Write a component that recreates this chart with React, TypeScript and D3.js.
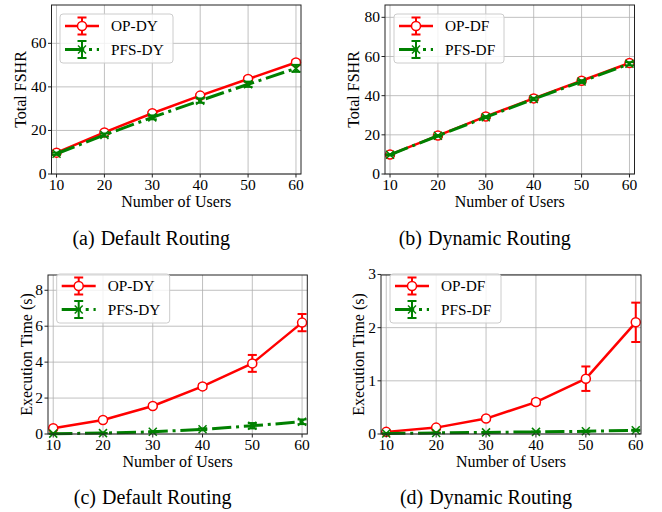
import React from "react";
import * as d3 from "d3";

const users = [10, 20, 30, 40, 50, 60];

const fshrOpDy = [9.8, 19.1, 27.9, 36.0, 43.6, 51.2];
const fshrOpDyErr = [0.4, 0.5, 0.6, 0.7, 0.8, 1.0];
const fshrPfsDy = [9.3, 17.9, 26.0, 33.7, 41.2, 48.5];
const fshrPfsDyErr = [0.5, 0.7, 0.9, 1.0, 1.2, 1.6];

const fshrOpDf = [9.9, 19.6, 29.4, 38.6, 47.6, 56.7];
const fshrOpDfErr = [0.3, 0.4, 0.5, 0.5, 0.6, 0.7];
const fshrPfsDf = [9.8, 19.5, 29.0, 38.3, 47.2, 56.3];
const fshrPfsDfErr = [0.3, 0.4, 0.5, 0.6, 0.7, 0.8];

const timeOpDy = [0.32, 0.78, 1.56, 2.65, 3.93, 6.2];
const timeOpDyErr = [0.03, 0.05, 0.08, 0.12, 0.47, 0.48];
const timePfsDy = [0.02, 0.05, 0.12, 0.26, 0.46, 0.68];
const timePfsDyErr = [0.01, 0.01, 0.03, 0.05, 0.15, 0.13];

const timeOpDf = [0.04, 0.12, 0.29, 0.6, 1.04, 2.1];
const timeOpDfErr = [0.01, 0.02, 0.03, 0.05, 0.23, 0.37];
const timePfsDf = [0.01, 0.02, 0.03, 0.04, 0.05, 0.07];
const timePfsDfErr = [0.003, 0.004, 0.005, 0.006, 0.008, 0.01];

const xTicks = [10, 20, 30, 40, 50, 60];
const yTicksA = [0, 20, 40, 60];
const yTicksB = [0, 20, 40, 60, 80];
const yTicksC = [0, 2, 4, 6, 8];
const yTicksD = [0, 1, 2, 3];

const captions = ["(a) Default Routing", "(b) Dynamic Routing", "(c) Default Routing", "(d) Dynamic Routing"];

const FONT = "'Liberation Serif', 'Times New Roman', serif";
const RED = "#ff0000";
const GREEN = "#008000";

type PanelProps = {
  left: number; right: number; top: number; bottom: number;
  yMax: number; yTicks: number[]; yLabel: string; yLabelOff: number;
  op: number[]; opErr: number[]; pfs: number[]; pfsErr: number[];
  opName: string; pfsName: string;
  legX: number; legY: number; legW: number;
  caption: string; capY: number;
};

function XMarker({ x, y }: { x: number; y: number }) {
  const s = 4;
  return (
    <g stroke={GREEN} strokeWidth={1.5}>
      <line x1={x - s} y1={y - s} x2={x + s} y2={y + s} />
      <line x1={x - s} y1={y + s} x2={x + s} y2={y - s} />
    </g>
  );
}

function Panel(p: PanelProps) {
  const x = d3.scaleLinear().domain([8.95, 61.05]).range([p.left, p.right]);
  const y = d3.scaleLinear().domain([0, p.yMax]).range([p.bottom, p.top]);
  const line = d3.line<number>().x((_, i) => x(users[i])).y((d) => y(d));
  const cap = 4.5;
  const errBars = (vals: number[], errs: number[], color: string) =>
    vals.map((v, i) => {
      const cx = x(users[i]);
      const y1 = y(v - errs[i]);
      const y2 = y(v + errs[i]);
      return (
        <g key={i} stroke={color} strokeWidth={2}>
          <line x1={cx} x2={cx} y1={y1} y2={y2} />
          <line x1={cx - cap} x2={cx + cap} y1={y1} y2={y1} />
          <line x1={cx - cap} x2={cx + cap} y1={y2} y2={y2} />
        </g>
      );
    });
  const dash = "19.2,4.8,3,4.8";
  const lx0 = p.legX + 5;
  const lx1 = p.legX + 39;
  const lmid = (lx0 + lx1) / 2;
  const e1 = p.legY + 12;
  const e2 = p.legY + 35.5;
  const [capLead, ...capRest] = p.caption.split(" ");
  return (
    <g>
      <g stroke="#b0b0b0" strokeWidth={0.8}>
        {xTicks.map((t) => (
          <line key={"gx" + t} x1={x(t)} x2={x(t)} y1={p.top} y2={p.bottom} />
        ))}
        {p.yTicks.map((t) => (
          <line key={"gy" + t} x1={p.left} x2={p.right} y1={y(t)} y2={y(t)} />
        ))}
      </g>
      <path d={line(p.op) || ""} fill="none" stroke={RED} strokeWidth={2.5} strokeLinejoin="round" />
      {errBars(p.op, p.opErr, RED)}
      {p.op.map((v, i) => (
        <circle key={"c" + i} cx={x(users[i])} cy={y(v)} r={4.5} fill="white" stroke={RED} strokeWidth={1.5} />
      ))}
      <path d={line(p.pfs) || ""} fill="none" stroke={GREEN} strokeWidth={3} strokeDasharray={dash} />
      {errBars(p.pfs, p.pfsErr, GREEN)}
      {p.pfs.map((v, i) => (
        <XMarker key={"x" + i} x={x(users[i])} y={y(v)} />
      ))}
      <rect x={p.left} y={p.top} width={p.right - p.left} height={p.bottom - p.top} fill="none" stroke="#222" strokeWidth={1} />
      <g stroke="#222" strokeWidth={1}>
        {xTicks.map((t) => (
          <line key={"tx" + t} x1={x(t)} x2={x(t)} y1={p.bottom} y2={p.bottom + 3.5} />
        ))}
        {p.yTicks.map((t) => (
          <line key={"ty" + t} x1={p.left - 3.5} x2={p.left} y1={y(t)} y2={y(t)} />
        ))}
      </g>
      <g fontFamily={FONT} fontSize={15.5} fill="#000">
        {xTicks.map((t) => (
          <text key={"lx" + t} x={x(t)} y={p.bottom + 16} textAnchor="middle">{t}</text>
        ))}
        {p.yTicks.map((t) => (
          <text key={"ly" + t} x={p.left - 5} y={y(t) + 5} textAnchor="end">{t}</text>
        ))}
      </g>
      <text x={(p.left + p.right) / 2} y={p.bottom + 33} textAnchor="middle" fontFamily={FONT} fontSize={16}>Number of Users</text>
      <text transform={`translate(${p.left - p.yLabelOff},${(p.top + p.bottom) / 2}) rotate(-90)`} textAnchor="middle" fontFamily={FONT} fontSize={16}>{p.yLabel}</text>
      <rect x={p.legX} y={p.legY} width={p.legW} height={49} rx={3} fill="white" fillOpacity={0.8} stroke="#cccccc" strokeWidth={1} />
      <line x1={lx0} x2={lx1} y1={e1} y2={e1} stroke={RED} strokeWidth={2.5} />
      <g stroke={RED} strokeWidth={2}>
        <line x1={lmid} x2={lmid} y1={e1 - 8.5} y2={e1 + 8.5} />
        <line x1={lmid - cap} x2={lmid + cap} y1={e1 - 8.5} y2={e1 - 8.5} />
        <line x1={lmid - cap} x2={lmid + cap} y1={e1 + 8.5} y2={e1 + 8.5} />
      </g>
      <circle cx={lmid} cy={e1} r={4.5} fill="white" stroke={RED} strokeWidth={1.5} />
      <line x1={lx0} x2={lx1} y1={e2} y2={e2} stroke={GREEN} strokeWidth={3} strokeDasharray={dash} />
      <g stroke={GREEN} strokeWidth={2}>
        <line x1={lmid} x2={lmid} y1={e2 - 8.5} y2={e2 + 8.5} />
        <line x1={lmid - cap} x2={lmid + cap} y1={e2 - 8.5} y2={e2 - 8.5} />
        <line x1={lmid - cap} x2={lmid + cap} y1={e2 + 8.5} y2={e2 + 8.5} />
      </g>
      <XMarker x={lmid} y={e2} />
      <g fontFamily={FONT} fontSize={15.3} fill="#000">
        <text x={p.legX + 51} y={e1 + 5}>{p.opName}</text>
        <text x={p.legX + 51} y={e2 + 5}>{p.pfsName}</text>
      </g>
      <text x={(p.left + p.right) / 2 - 25} y={p.capY} textAnchor="middle" fontFamily={FONT} fontSize={20}>
        <tspan>{capLead}</tspan>
        <tspan dx={6}>{capRest.join(" ")}</tspan>
      </text>
    </g>
  );
}

export default function App() {
  return (
    <div style={{ position: "absolute", left: 0, top: 0 }}>
      <svg width={662} height={512} style={{ display: "block", background: "white" }}>
        <Panel left={51.5} right={301} top={5} bottom={174} yMax={77.6} yTicks={yTicksA} yLabel="Total FSHR" yLabelOff={25.5}
          op={fshrOpDy} opErr={fshrOpDyErr} pfs={fshrPfsDy} pfsErr={fshrPfsDyErr}
          opName="OP-DY" pfsName="PFS-DY" legX={60} legY={14} legW={113} caption={captions[0]} capY={245} />
        <Panel left={385} right={634.5} top={5} bottom={174} yMax={86.3} yTicks={yTicksB} yLabel="Total FSHR" yLabelOff={26}
          op={fshrOpDf} opErr={fshrOpDfErr} pfs={fshrPfsDf} pfsErr={fshrPfsDfErr}
          opName="OP-DF" pfsName="PFS-DF" legX={394} legY={14} legW={110} caption={captions[1]} capY={245} />
        <Panel left={48} right={307.3} top={275} bottom={434} yMax={8.85} yTicks={yTicksC} yLabel="Execution Time (s)" yLabelOff={16}
          op={timeOpDy} opErr={timeOpDyErr} pfs={timePfsDy} pfsErr={timePfsDyErr}
          opName="OP-DY" pfsName="PFS-DY" legX={56.7} legY={274} legW={113} caption={captions[2]} capY={504} />
        <Panel left={381} right={641} top={275} bottom={434} yMax={2.99} yTicks={yTicksD} yLabel="Execution Time (s)" yLabelOff={17}
          op={timeOpDf} opErr={timeOpDfErr} pfs={timePfsDf} pfsErr={timePfsDfErr}
          opName="OP-DF" pfsName="PFS-DF" legX={390} legY={274} legW={111} caption={captions[3]} capY={504} />
      </svg>
    </div>
  );
}
